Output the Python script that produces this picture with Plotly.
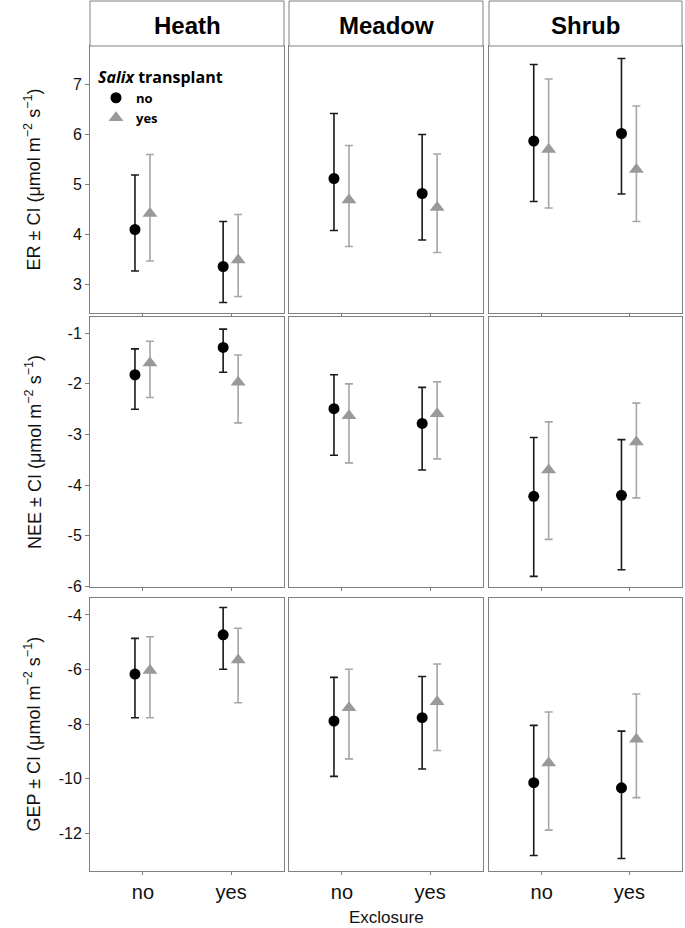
import plotly.graph_objects as go

sites = ["Heath", "Meadow", "Shrub"]
exclosure = ["no", "yes"]
responses = ["ER", "NEE", "GEP"]
transplant = ["no", "yes"]

# rows: site (Heath, Meadow, Shrub); columns: exclosure (no, yes)
ER_no_mean = [[4.09, 3.35], [5.11, 4.81], [5.86, 6.01]]
ER_no_hi = [[5.18, 4.25], [6.41, 5.99], [7.39, 7.51]]
ER_no_lo = [[3.26, 2.63], [4.07, 3.88], [4.65, 4.80]]
ER_yes_mean = [[4.41, 3.48], [4.68, 4.53], [5.69, 5.29]]
ER_yes_hi = [[5.59, 4.39], [5.77, 5.60], [7.10, 6.56]]
ER_yes_lo = [[3.46, 2.75], [3.75, 3.63], [4.52, 4.25]]

NEE_no_mean = [[-1.82, -1.28], [-2.49, -2.78], [-4.22, -4.20]]
NEE_no_hi = [[-1.31, -0.92], [-1.82, -2.07], [-3.06, -3.10]]
NEE_no_lo = [[-2.50, -1.77], [-3.41, -3.70], [-5.80, -5.67]]
NEE_yes_mean = [[-1.59, -1.97], [-2.63, -2.59], [-3.70, -3.15]]
NEE_yes_hi = [[-1.16, -1.43], [-2.00, -1.96], [-2.75, -2.38]]
NEE_yes_lo = [[-2.27, -2.77], [-3.56, -3.48], [-5.07, -4.25]]

GEP_no_mean = [[-6.17, -4.73], [-7.89, -7.77], [-10.15, -10.34]]
GEP_no_hi = [[-4.86, -3.73], [-6.29, -6.26], [-8.05, -8.26]]
GEP_no_lo = [[-7.77, -5.99], [-9.92, -9.65], [-12.82, -12.93]]
GEP_yes_mean = [[-6.04, -5.65], [-7.40, -7.18], [-9.43, -8.56]]
GEP_yes_hi = [[-4.80, -4.49], [-5.99, -5.80], [-7.56, -6.90]]
GEP_yes_lo = [[-7.77, -7.22], [-9.28, -8.97], [-11.89, -10.70]]

data = {
    "ER": {"no": (ER_no_mean, ER_no_hi, ER_no_lo), "yes": (ER_yes_mean, ER_yes_hi, ER_yes_lo)},
    "NEE": {"no": (NEE_no_mean, NEE_no_hi, NEE_no_lo), "yes": (NEE_yes_mean, NEE_yes_hi, NEE_yes_lo)},
    "GEP": {"no": (GEP_no_mean, GEP_no_hi, GEP_no_lo), "yes": (GEP_yes_mean, GEP_yes_hi, GEP_yes_lo)},
}

y_ranges = {"ER": [2.42, 7.76], "NEE": [-6.01, -0.68], "GEP": [-13.39, -3.38]}
y_ticks = {"ER": [3, 4, 5, 6, 7], "NEE": [-6, -5, -4, -3, -2, -1], "GEP": [-12, -10, -8, -6, -4]}
y_titles = {
    "ER": "ER ± CI (μmol m<sup>−2</sup> s<sup>−1</sup>)",
    "NEE": "NEE ± CI (μmol m<sup>−2</sup> s<sup>−1</sup>)",
    "GEP": "GEP ± CI (μmol m<sup>−2</sup> s<sup>−1</sup>)",
}

W, H = 685, 928
ML, MR, MT, MB = 90, 3, 1, 57
PW, PH = W - ML - MR, H - MT - MB

def px_x(a, b):
    return [(a - ML) / PW, (b - ML) / PW]

def px_y(top, bot):
    return [(H - MB - bot) / PH, (H - MB - top) / PH]

col_dom = [px_x(90, 284), px_x(289, 483), px_x(489, 682)]
row_dom = [px_y(46, 313), px_y(317, 587), px_y(598, 871)]

styles = {
    "no": dict(symbol="circle", color="black", size=11, ecolor="#1a1a1a", off=-0.09),
    "yes": dict(symbol="triangle-up", color="#999999", size=13, ecolor="#a6a6a6", off=0.08),
}

GRID = "#808080"
fig = go.Figure()
layout = {}
xpos = [1, 2]
for r, resp in enumerate(responses):
    for c, site in enumerate(sites):
        idx = r * 3 + c + 1
        xa = "x" if idx == 1 else f"x{idx}"
        ya = "y" if idx == 1 else f"y{idx}"
        for t in transplant:
            mean, hi, lo = data[resp][t]
            st = styles[t]
            m = mean[c]
            fig.add_trace(go.Scatter(
                x=[p + st["off"] for p in xpos], y=m,
                mode="markers",
                name=f"<b>{t}</b>",
                legendgroup=t,
                showlegend=(idx == 1),
                marker=dict(symbol=st["symbol"], color=st["color"], size=st["size"], line=dict(width=0)),
                error_y=dict(type="data", symmetric=False,
                             array=[h - v for h, v in zip(hi[c], m)],
                             arrayminus=[v - l for v, l in zip(m, lo[c])],
                             color=st["ecolor"], thickness=1.6, width=4),
                xaxis=xa, yaxis=ya,
            ))
        axn = "" if idx == 1 else str(idx)
        layout[f"xaxis{axn}"] = dict(
            domain=col_dom[c], range=[0.4, 2.6], anchor=ya,
            tickvals=xpos, ticktext=exclosure,
            showticklabels=(r == 2),
            ticks="outside", ticklen=3, tickcolor=GRID,
            showline=True, linecolor=GRID, linewidth=1, mirror=True,
            showgrid=False, zeroline=False,
            tickfont=dict(family="Arial, Liberation Sans", size=20, color="#111"),
        )
        layout[f"yaxis{axn}"] = dict(
            domain=row_dom[r], range=y_ranges[resp], anchor=xa,
            tickvals=y_ticks[resp], ticktext=[str(v) for v in y_ticks[resp]],
            showticklabels=(c == 0),
            ticks="outside" if c == 0 else "", ticklen=4, tickcolor=GRID,
            showline=True, linecolor=GRID, linewidth=1, mirror=True,
            showgrid=False, zeroline=False,
            tickfont=dict(family="Arial, Liberation Sans", size=16, color="#111"),
        )

shapes = []
annotations = []
strip_dom = px_y(1, 46)
for c, site in enumerate(sites):
    shapes.append(dict(type="rect", xref="paper", yref="paper",
                       x0=col_dom[c][0], x1=col_dom[c][1], y0=strip_dom[0], y1=strip_dom[1],
                       line=dict(color=GRID, width=1), fillcolor="white"))
    annotations.append(dict(text=f"<b>{site}</b>", xref="paper", yref="paper",
                            x=sum(col_dom[c]) / 2, y=(H - MB - 25) / PH,
                            xanchor="center", yanchor="middle", showarrow=False,
                            font=dict(family="Arial, Liberation Sans", size=24, color="black")))

for r, resp in enumerate(responses):
    annotations.append(dict(text=y_titles[resp], xref="paper", yref="paper",
                            x=(33 - ML) / PW, y=sum(row_dom[r]) / 2, textangle=-90,
                            xanchor="center", yanchor="middle", showarrow=False,
                            font=dict(family="Arial, Liberation Sans", size=18, color="#111")))

annotations.append(dict(text="Exclosure", xref="paper", yref="paper",
                        x=(386 - ML) / PW, y=(H - MB - 917) / PH,
                        xanchor="center", yanchor="middle", showarrow=False,
                        font=dict(family="Arial, Liberation Sans", size=17, color="#111")))

fig.update_layout(
    width=W, height=H,
    margin=dict(l=ML, r=MR, t=MT, b=MB),
    plot_bgcolor="white", paper_bgcolor="white",
    shapes=shapes, annotations=annotations,
    legend=dict(
        x=(96 - ML) / PW, y=(H - MB - 62) / PH, xanchor="left", yanchor="top",
        title=dict(text="<b><i>Salix</i> transplant</b>",
                   font=dict(family="Open Sans", size=16, color="black")),
        font=dict(family="Open Sans", size=13, color="black"),
        bgcolor="rgba(0,0,0,0)", itemwidth=30, tracegroupgap=0,
    ),
    **layout,
)

fig.write_html("out.html", config={"displayModeBar": False},
               post_script="document.body.style.margin='0';")
